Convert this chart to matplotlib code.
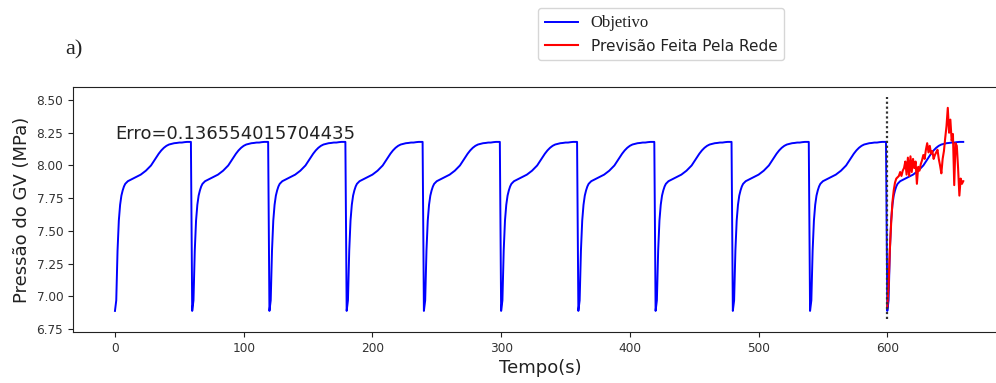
import numpy as np
import matplotlib
matplotlib.use("Agg")
import matplotlib.pyplot as plt

# ---- data ----
# one cycle of the target signal (time within cycle in s, pressure in MPa)
cycle_t = [0, 1, 2, 3, 4, 5, 6, 7, 8, 9, 10, 12, 14, 16, 18, 20, 22, 24, 26, 28,
           30, 32, 34, 36, 38, 40, 42, 44, 46, 48, 50, 52, 54, 56, 58, 59]
cycle_v = [6.89, 6.97, 7.35, 7.58, 7.70, 7.77, 7.81, 7.84, 7.86, 7.87, 7.88, 7.89,
           7.90, 7.91, 7.92, 7.93, 7.945, 7.96, 7.98, 8.00, 8.03, 8.06, 8.09,
           8.115, 8.135, 8.15, 8.16, 8.165, 8.17, 8.172, 8.175, 8.175, 8.178,
           8.18, 8.18, 8.18]
cycle_starts = [0, 60, 120, 180, 240, 300, 360, 420, 480, 540, 600]

red_t = list(range(600, 660))
red_v = [6.92, 7.08, 7.36, 7.56, 7.72, 7.81, 7.87, 7.90, 7.91, 7.92,
         7.95, 7.92, 7.96, 7.98, 8.03, 7.93, 8.06, 7.92, 8.07, 7.95,
         8.05, 7.98, 8.03, 7.86, 7.99, 7.96, 8.01, 8.04, 8.08, 8.05,
         8.12, 8.17, 8.10, 8.15, 8.09, 8.11, 8.05, 8.08, 8.10, 8.12,
         8.05, 8.00, 7.94, 8.05, 8.11, 8.21, 8.30, 8.44, 8.25, 8.35,
         8.19, 8.24, 7.85, 8.17, 8.15, 7.98, 7.77, 7.90, 7.86, 7.88]

xticks = [0, 100, 200, 300, 400, 500, 600]
yticks = [6.75, 7.00, 7.25, 7.50, 7.75, 8.00, 8.25, 8.50]
erro_text = "Erro=0.136554015704435"
split_t = 600

blue_t = np.concatenate([np.array(cycle_t) + s for s in cycle_starts])
blue_v = np.concatenate([np.array(cycle_v) for s in cycle_starts])

# ---- figure ----
W, H = 996, 383
fig = plt.figure(figsize=(W / 100, H / 100), dpi=100)
ax = fig.add_axes([73 / W, 1 - 332 / H, (1007 - 73) / W, (332 - 87) / H])

l1, = ax.plot(blue_t, blue_v, color="#0000ff", lw=1.4, label="Objetivo")
l2, = ax.plot(red_t, red_v, color="#ff0000", lw=1.5, label="Previsão Feita Pela Rede")
ax.vlines(split_t, 6.83, 8.52, colors="#333333", linestyles=(0, (1, 1.2)), lw=1.6, zorder=5)

ax.text(0, 8.2, erro_text, fontsize=13, color="#222222")

ax.set_xlim(-32.6, 693)
ax.set_ylim(6.729, 8.599)
ax.set_xticks(xticks)
ax.set_yticks(yticks)
ax.set_yticklabels([f"{v:.2f}" for v in yticks])
ax.tick_params(labelsize=8.7, colors="#333333")
ax.tick_params(axis="both", color="#222222")
ax.set_xlabel("Tempo(s)", fontsize=13, color="#222222", labelpad=3)
ax.set_ylabel("Pressão do GV (MPa)", fontsize=13, color="#222222")
for sp in ax.spines.values():
    sp.set_color("#222222")

fig.text(65 / W, 1 - 50 / H, "a)", family="Liberation Serif", fontsize=16,
         va="center", ha="left", color="#222222")

leg = fig.legend(handles=[l1, l2], loc="upper left",
                 bbox_to_anchor=(538 / W, 1 - 8 / H), borderaxespad=0,
                 fontsize=11, handlelength=2.2, borderpad=0.45, labelspacing=0.5)
t0, t1 = leg.get_texts()
t0.set_fontfamily("Liberation Serif")
t0.set_fontsize(12)
for t in leg.get_texts():
    t.set_color("#222222")

fig.savefig("out.png", dpi=100)
